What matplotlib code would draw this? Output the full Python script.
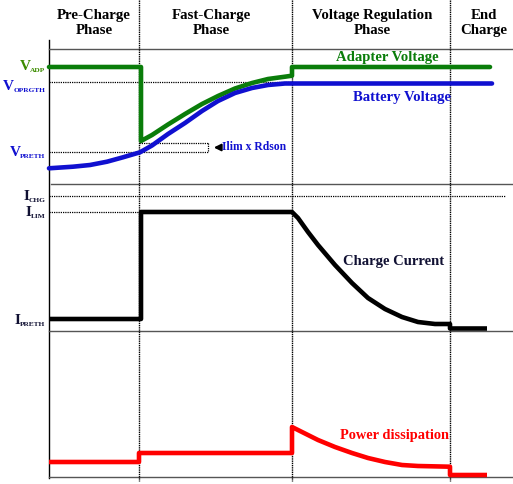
import matplotlib
matplotlib.use("Agg")
import matplotlib.pyplot as plt

plt.rcParams['font.family'] = ['Liberation Serif', 'DejaVu Serif']

# ---- data (diagram coordinates) ----
phase_names = ["Pre-Charge\nPhase", "Fast-Charge\nPhase", "Voltage Regulation\nPhase", "End\nCharge"]
phase_centers = [94, 211, 372, 484]
phase_bounds = [139, 292, 450]

# voltage levels
v_adp = 67
v_oprgth = 82
v_preth = 152

adapter_x = [49, 141, 141, 152, 168, 185, 202, 218, 235, 252, 268, 285, 292, 292, 490]
adapter_y = [67, 67, 141, 135, 124.5, 114, 104, 96, 88.5, 83, 79, 76.7, 75.7, 67, 67]

battery_x = [49, 73, 90, 107, 123, 140, 152, 168, 185, 202, 218, 235, 252, 268, 285, 292, 492]
battery_y = [168.3, 166.7, 165, 161.7, 157.3, 152.3, 145.5, 134, 123, 111, 101, 93, 88, 85, 83.5, 83.5, 83.5]

# current levels
i_chg = 196
i_lim = 212
i_preth = 319

current_x = [49, 141, 141, 292, 298, 308, 318, 335, 352, 368, 385, 402, 418, 435, 450, 450, 487]
current_y = [319, 319, 212, 212, 218, 232, 245, 265, 283, 298, 309, 317, 322, 324, 324, 328.5, 328.5]

power_x = [49, 139, 139, 292, 292, 302, 318, 335, 352, 368, 385, 402, 418, 450, 450, 487]
power_y = [462, 462, 453, 453, 427, 432, 440, 447, 453, 458, 462, 465, 466, 466.7, 475, 475]

fig = plt.figure(figsize=(5.13, 4.84), dpi=100)
ax = fig.add_axes([0, 0, 1, 1])
ax.set_xlim(0, 513)
ax.set_ylim(484, 0)
ax.axis('off')

# frame / separators
ax.plot([49, 49], [40, 478], color='black', lw=1.0)
for y, x0 in [(49, 49), (184, 51), (331, 49), (477, 49)]:
    ax.plot([x0, 513], [y, y], color='#555555', lw=1.0)
for xb in phase_bounds:
    ax.plot([xb, xb], [0, 481], color='black', lw=1.0, ls=(0, (1, 0.6)))

# headers
for name, xc in zip(phase_names, phase_centers):
    ax.text(xc, 23, name, ha='center', va='center', fontsize=10.7,
            fontweight='bold', linespacing=1.2, color='black')

# dotted reference lines
dot = dict(color='black', lw=0.9, ls=(0, (1, 0.8)))
ax.plot([49, 292], [v_oprgth, v_oprgth], **dot)
ax.plot([49, 208], [v_preth, v_preth], **dot)
ax.plot([139, 208], [143, 143], **dot)
ax.plot([208, 208], [143, 152], **dot)
ax.plot([49, 505], [i_chg, i_chg], **dot)
ax.plot([49, 139], [i_lim, i_lim], **dot)

# curves
green = '#0a7d0a'
blue = '#1010d0'
red = '#ff0000'
lw = 3.3
ax.plot(adapter_x, adapter_y, color=green, lw=lw, solid_joinstyle='round', solid_capstyle='round')
ax.plot(battery_x, battery_y, color=blue, lw=lw, solid_joinstyle='round', solid_capstyle='round')
ax.plot(current_x, current_y, color='black', lw=lw, solid_joinstyle='round', solid_capstyle='butt')
ax.plot(power_x, power_y, color=red, lw=lw, solid_joinstyle='round', solid_capstyle='butt')

# annotations
ax.annotate('', xy=(211, 147.5), xytext=(222, 147.5),
            arrowprops=dict(arrowstyle='-|>', color='black', lw=1.5, mutation_scale=10))
ax.text(222.5, 147.5, 'Ilim x Rdson', ha='left', va='center', fontsize=8.4,
        fontweight='bold', color=blue)
ax.text(387, 58, 'Adapter Voltage', ha='center', va='center', fontsize=10.6,
        fontweight='bold', color=green)
ax.text(402, 97, 'Battery Voltage', ha='center', va='center', fontsize=10.6,
        fontweight='bold', color=blue)
ax.text(394, 261, 'Charge Current', ha='center', va='center', fontsize=10.5,
        fontweight='bold', color='#111133')
ax.text(394, 435, 'Power dissipation', ha='center', va='center', fontsize=10.4,
        fontweight='bold', color=red)

# axis level labels: (main letter, subscript, y of main, colour)
labels = [
    ('V', 'ADP', v_adp - 1, '#3c8c00'),
    ('V', 'OPRGTH', v_oprgth + 4, blue),
    ('V', 'PRETH', v_preth + 1, blue),
    ('I', 'CHG', i_chg, '#111133'),
    ('I', 'LIM', i_lim, '#111133'),
    ('I', 'PRETH', i_preth + 1, '#111133'),
]
renderer = fig.canvas.get_renderer()
inv = ax.transData.inverted()
for main, sub, y, c in labels:
    ts = ax.text(45.5, y + 4, sub, ha='right', va='center', fontsize=5.3,
                 fontweight='bold', color=c)
    bb = ts.get_window_extent(renderer=renderer)
    x_left = inv.transform((bb.x0, bb.y0))[0]
    ax.text(x_left + 0.3, y, main, ha='right', va='center', fontsize=11,
            fontweight='bold', color=c)

fig.savefig('out.png', dpi=100)
